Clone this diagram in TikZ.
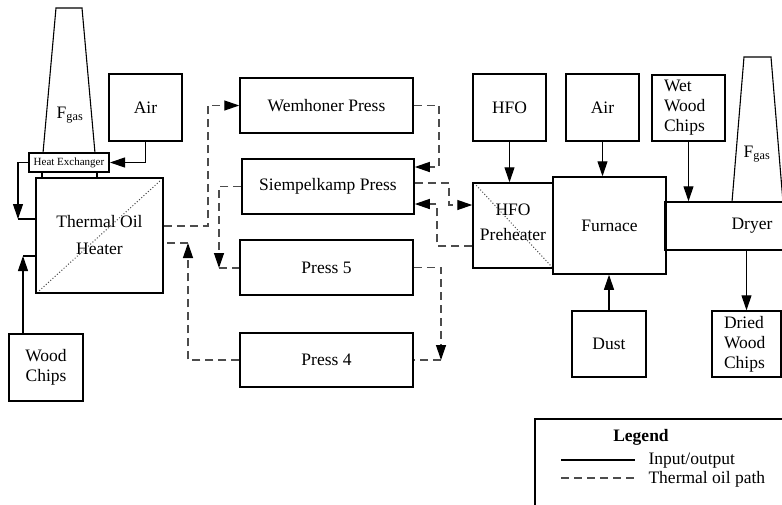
\documentclass[tikz,border=0pt]{standalone}
\usepackage{fontspec}
\setmainfont{Liberation Serif}
\usepackage{tikz}
\usetikzlibrary{arrows.meta}
\newcommand\bigtext{\fontsize{17.5}{20}\selectfont}

\begin{document}
\begin{tikzpicture}[x=1pt,y=-1pt,
  box/.style={draw, line width=1.5pt, inner sep=0pt, align=center, font=\bigtext},
  io/.style={line width=1.1pt},
  oil/.style={line width=1.3pt, black!70, dash pattern=on 8pt off 5pt},
  tip/.style={-{Triangle[length=15pt,width=10pt,color=black]}},
  diag/.style={black!70, dotted, line width=1pt}]
\useasboundingbox (0,0) rectangle (782,504);
% heater side
\draw[line width=1.1pt] (43,153) -- (56,8) -- (82,8) -- (95,153);
\node[font=\bigtext] (fgasL) at (70,115) {F\textsubscript{gas}};
\node[box, minimum width=73pt, minimum height=67pt] (airL) at (145.5,107.5) {Air};
\node[box, line width=2pt, minimum width=80pt, minimum height=19pt, font=\fontsize{11}{13}\selectfont] (hx) at (69,162.5) {Heat Exchanger};
\draw[line width=1.1pt] (42,172) -- (42,178) (97,172) -- (97,178);
\node[box, minimum width=127pt, minimum height=115pt] (heater) at (99.5,235.5) {Thermal Oil\\[7pt]Heater};
\draw[diag] (heater.south west) ++(4,-3) -- ([shift={(-3,3)}]heater.north east);
\node[box, minimum width=74pt, minimum height=67pt] (wood) at (46,367.5) {Wood\\Chips};
% presses
\node[box, minimum width=173pt, minimum height=55pt] (wemhoner) at (326.5,105.5) {Wemhoner Press};
\node[box, minimum width=172pt, minimum height=55pt] (siemp) at (328,186.5) {Siempelkamp Press};
\node[box, minimum width=173pt, minimum height=55pt] (press5) at (326.5,267.5) {Press 5};
\node[box, minimum width=173pt, minimum height=54pt] (press4) at (326.5,360) {Press 4};
% furnace side
\node[box, minimum width=73pt, minimum height=67pt] (hfo) at (509.5,107.5) {HFO};
\node[box, minimum width=73pt, minimum height=67pt] (airR) at (602.5,107.5) {Air};
\node[box, minimum width=80pt, minimum height=85pt] (preheater) at (513,225.5) {HFO\\[5pt]Preheater\\[-13pt]};
\draw[diag] ([shift={(4,3)}]preheater.north west) -- ([shift={(-2,-2)}]preheater.south east);
\node[box, minimum width=113pt, minimum height=97pt] (furnace) at (609.5,225.5) {Furnace};
\node[box, minimum width=73pt, minimum height=66pt, text width=49pt, align=left] (wet) at (688.5,108) {Wet\\Wood\\Chips};
\node[box, minimum width=120pt, minimum height=48pt] (dryer) at (725,226) {\hspace*{54pt}Dryer};
\draw[line width=1.1pt] (732,202) -- (744,57) -- (771,57) -- (783,202);
\node[font=\bigtext] (fgasR) at (757,154) {F\textsubscript{gas}};
\node[box, minimum width=74pt, minimum height=66pt] (dust) at (609,344) {Dust};
\node[box, minimum width=69pt, minimum height=66pt, text width=45pt, align=left] (dried) at (746.5,344) {Dried\\Wood\\Chips};
% inputs and outputs
\coordinate (hxbend) at (18,219);
\coordinate (woodbend) at (23,256);
\draw[io, tip] (airL.south) |- (hx.east);
\draw[io, tip] (hx.west) -| (hxbend);
\draw[io] (hxbend) -- (hxbend -| heater.west);
\draw[io, tip] (woodbend |- wood.north) -- (woodbend);
\draw[io] (woodbend) -- (woodbend -| heater.west);
\draw[io, tip] (hfo.south) -- (hfo.south |- preheater.north);
\draw[io, tip] (airR.south) -- (airR.south |- furnace.north);
\draw[io, tip] (wet.south) -- (wet.south |- dryer.north);
\draw[io, tip] (dust.north) -- (dust.north |- furnace.south);
\draw[io, tip] (dried.north |- dryer.south) -- (dried.north);
% thermal oil loop
\coordinate (bendA) at (208,226);
\coordinate (bendB) at (439,167);
\coordinate (bendC) at (449,183);
\coordinate (bendC2) at (449,205);
\coordinate (bendD) at (437,246);
\coordinate (bendD2) at (437,204);
\coordinate (bendE) at (219,268);
\coordinate (bendF) at (441,360);
\coordinate (bendG) at (188,243);
\draw[oil, tip] (bendA -| heater.east) -- (bendA) |- (wemhoner.west);
\draw[oil, tip] (wemhoner.east) -| (bendB) -- (bendB -| siemp.east);
\draw[oil, tip] (bendC -| siemp.east) -- (bendC) -- (bendC2) -- (bendC2 -| preheater.west);
\draw[oil, tip] (bendD -| preheater.west) -- (bendD) -- (bendD2) -- (bendD2 -| siemp.east);
\draw[oil, tip] (siemp.west) -| (bendE);
\draw[oil] (bendE) -- (bendE -| press5.west);
\draw[oil, tip] (press5.east) -| (bendF);
\draw[oil] (bendF) -- (bendF -| press4.east);
\draw[oil, tip] (press4.west) -| (bendG);
\draw[oil] (bendG) -- (bendG -| heater.east);
% legend
\draw[line width=1.5pt] (535,520) -- (535,419) -- (800,419);
\node[font=\bigtext\bfseries] (legend) at (641,437) {Legend};
\coordinate (ioA) at (561,460);
\coordinate (ioB) at (635,460);
\coordinate (oilA) at (561,478);
\coordinate (oilB) at (635,478);
\draw[io] (ioA) -- (ioB);
\draw[oil] (oilA) -- (oilB);
\node[anchor=west, font=\bigtext] (iolabel) at (645,461) {Input/output};
\node[anchor=west, font=\bigtext] (oillabel) at (645,479) {Thermal oil path};
\end{tikzpicture}
\end{document}
